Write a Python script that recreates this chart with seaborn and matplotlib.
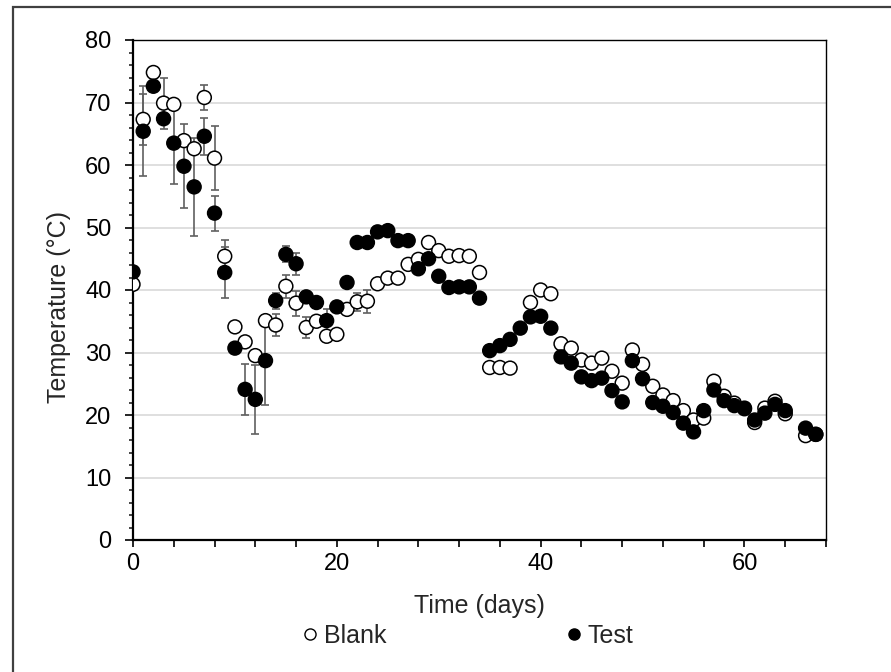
import numpy as np
import pandas as pd
import seaborn as sns
import matplotlib.pyplot as plt
from matplotlib.lines import Line2D
from matplotlib.patches import Rectangle
from matplotlib.ticker import MultipleLocator

nan = np.nan
days = list(range(68))

# temperatures, one per day (nan = no point)
blank = [40.9, 67.3, 74.8, 69.9, 69.7, 63.9, 62.6, 70.8, 61.1, 45.4,
         34.1, 31.7, 29.5, 35.1, 34.4, 40.6, 37.9, 34.0, 35.0, 32.6,
         32.9, 36.9, 38.1, 38.2, 41.0, 41.9, 41.9, 44.1, 44.9, 47.6,
         46.3, 45.4, 45.5, 45.4, 42.8, 27.6, 27.6, 27.5, nan, 38.0,
         40.0, 39.4, 31.4, 30.7, 28.8, 28.3, 29.1, 27.0, 25.1, 30.4,
         28.1, 24.6, 23.2, 22.3, 20.7, 19.2, 19.5, 25.4, 23.0, 21.9,
         21.0, 18.8, 21.1, 22.2, 20.2, nan, 16.7, 16.9]
test = [42.9, 65.4, 72.6, 67.4, 63.5, 59.8, 56.5, 64.6, 52.3, 42.8,
        30.7, 24.1, 22.5, 28.7, 38.3, 45.7, 44.2, 38.9, 38.0, 35.1,
        37.3, 41.2, 47.6, 47.6, 49.3, 49.5, 47.9, 47.9, 43.4, 45.0,
        42.2, 40.4, 40.5, 40.5, 38.7, 30.3, 31.1, 32.1, 33.9, 35.7,
        35.8, 33.9, 29.3, 28.3, 26.1, 25.5, 25.9, 23.9, 22.1, 28.7,
        25.8, 22.0, 21.4, 20.4, 18.7, 17.3, 20.7, 24.0, 22.3, 21.5,
        21.1, 19.2, 20.3, 21.7, 20.7, nan, 17.9, 16.9]

# error bars (0 = none shown)
blank_err = [0] * 68
test_err = [0] * 68
for d, e in {1: 4.1, 3: 4.1, 7: 2.0, 8: 5.1, 9: 2.6, 14: 1.8, 15: 1.8,
             16: 2.0, 17: 1.7, 22: 1.5, 23: 1.8}.items():
    blank_err[d] = e
for d, e in {1: 7.2, 4: 6.6, 5: 6.7, 6: 7.8, 7: 3.0, 8: 2.8, 9: 4.1,
             11: 4.1, 12: 5.5, 13: 7.1, 14: 1.3, 15: 1.3, 16: 1.8, 19: 1.8}.items():
    test_err[d] = e

sns.set_style('ticks')
plt.rcParams['font.family'] = ['Liberation Sans', 'DejaVu Sans']

df = pd.concat([
    pd.DataFrame({'day': days, 'temp': blank, 'err': blank_err, 'group': 'Blank'}),
    pd.DataFrame({'day': days, 'temp': test, 'err': test_err, 'group': 'Test'}),
], ignore_index=True)

fig = plt.figure(figsize=(8.91, 6.72), dpi=100)
ax = fig.add_axes([133 / 891, 132 / 672, 693 / 891, 500 / 672])

for g in ['Blank', 'Test']:
    d = df[(df.group == g) & (df.err > 0)]
    ax.errorbar(d.day, d.temp, yerr=d.err, fmt='none', ecolor='#606060',
                elinewidth=1.2, capsize=3, capthick=1.2, zorder=2)

sns.scatterplot(data=df, x='day', y='temp', hue='group',
                palette={'Blank': 'white', 'Test': 'black'},
                edgecolor='black', linewidth=1.1, s=100, legend=False,
                ax=ax, zorder=3)

ax.set_xlim(0, 68)
ax.set_ylim(0, 80)
ax.xaxis.set_major_locator(MultipleLocator(20))
ax.xaxis.set_minor_locator(MultipleLocator(4))
ax.yaxis.set_major_locator(MultipleLocator(10))
ax.yaxis.set_minor_locator(MultipleLocator(2))
ax.yaxis.grid(True, color='#d9d9d9', lw=1.2)
ax.set_axisbelow(True)

for s in ['left', 'bottom']:
    ax.spines[s].set_linewidth(1.6)
for s in ['top', 'right']:
    ax.spines[s].set_linewidth(1.0)
for s in ax.spines.values():
    s.set_color('black')

ax.tick_params(axis='y', which='major', direction='out', length=5.5, width=1.2,
               pad=10, labelsize=17, colors='black')
ax.tick_params(axis='y', which='minor', direction='out', length=3, width=1.2)
ax.tick_params(axis='x', which='both', direction='out', length=5, width=1.2,
               pad=4, labelsize=17, colors='black')

ax.set_xlabel('Time (days)', fontsize=18)
ax.set_ylabel('Temperature (\u00b0C)', fontsize=18)
ax.xaxis.set_label_coords(0.5, -0.108)
ax.yaxis.set_label_coords(-0.090, 0.466)

handles = [Line2D([], [], marker='o', ls='', mfc='white', mec='black', ms=8, mew=1),
           Line2D([], [], marker='o', ls='', mfc='black', mec='black', ms=8, mew=1)]
fig.legend(handles, ['Blank', 'Test'], loc='center',
           bbox_to_anchor=(468 / 891, 1 - 636 / 672), ncol=2, frameon=False,
           handlelength=0.6, handletextpad=0.25, columnspacing=7.2, fontsize=18)

fig.patches.append(Rectangle((13 / 891, -0.05), 1.1, (665 / 672) + 0.05,
                             transform=fig.transFigure, fill=False,
                             ec='#404040', lw=1.6))

fig.savefig('out.png', dpi=100)
